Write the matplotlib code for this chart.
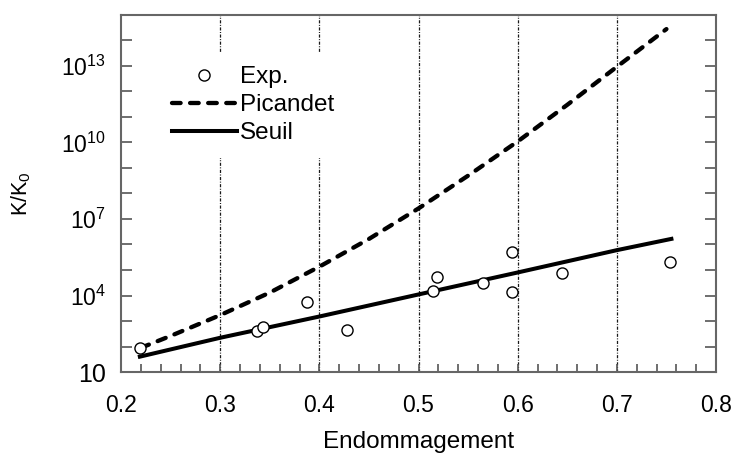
import matplotlib
matplotlib.use("Agg")
import matplotlib.pyplot as plt
from matplotlib.ticker import FixedLocator, NullFormatter, MultipleLocator

plt.rcParams['font.family'] = ['Liberation Sans', 'DejaVu Sans']
plt.rcParams['mathtext.default'] = 'regular'

# mesures
exp_d = [0.219, 0.337, 0.343, 0.388, 0.428, 0.515, 0.519, 0.565, 0.594, 0.594, 0.645, 0.754]
exp_k = [89, 410, 560, 5.8e3, 440, 1.55e4, 5.5e4, 3.0e4, 5.2e5, 1.35e4, 7.8e4, 2.0e5]

# modele Picandet
pic_d = [0.22, 0.25, 0.30, 0.35, 0.40, 0.45, 0.50, 0.55, 0.60, 0.65, 0.70, 0.75]
pic_k = [89, 260, 1.7e3, 1.3e4, 1.35e5, 1.65e6, 2.6e7, 5.0e8, 1.1e10, 3.0e11, 9.3e12, 2.8e14]

# modele seuil
seuil_d = [0.219, 0.30, 0.40, 0.50, 0.60, 0.70, 0.755]
seuil_k = [40, 2.2e2, 1.5e3, 1.1e4, 8.0e4, 6.0e5, 1.66e6]

y_major = [10, 1e4, 1e7, 1e10, 1e13]
y_labels = ['10', '$10^{4}$', '$10^{7}$', '$10^{10}$', '$10^{13}$']
y_minor = [10.0 ** e for e in range(2, 16) if (e - 1) % 3 != 0]
grid_x = [0.3, 0.4, 0.5, 0.6, 0.7]

fig = plt.figure(figsize=(7.34, 4.54), dpi=100)
ax = fig.add_axes([0.1649, 0.1806, 0.8106, 0.7864])

for gx in grid_x:
    ax.axvline(gx, color='#1a1a1a', lw=0.9, ls=(0, (2.5, 1.2, 0.8, 1.2)), zorder=0)

ax.plot(pic_d, pic_k, color='black', lw=3.1, ls=(0, (2.0, 2.2)),
        dash_capstyle='round', label='Picandet', zorder=2)
ax.plot(seuil_d, seuil_k, color='black', lw=2.9, label='Seuil', zorder=2)
ax.plot(exp_d, exp_k, ls='none', marker='o', ms=8, mfc='white', mec='black',
        mew=1.0, label='Exp.', zorder=3)

ax.set_yscale('log')
ax.set_xlim(0.2, 0.8)
ax.set_ylim(10, 1e15)

ax.xaxis.set_major_locator(MultipleLocator(0.1))
ax.xaxis.set_minor_locator(MultipleLocator(0.02))
ax.yaxis.set_major_locator(FixedLocator(y_major))
ax.set_yticklabels(y_labels)
ax.yaxis.set_minor_locator(FixedLocator(y_minor))
ax.yaxis.set_minor_formatter(NullFormatter())

ax.tick_params(which='both', direction='in', top=False, right=True,
               color='#555555', width=1.2, labelsize=16.5)
ax.tick_params(axis='x', which='both', length=6, pad=16)
ax.tick_params(axis='y', which='both', length=8, pad=11)
ax.get_yticklabels()[0].set_fontsize(18)

for sp in ax.spines.values():
    sp.set_color('#666666')
    sp.set_linewidth(1.5)

ax.set_xlabel('Endommagement', fontsize=17.5, labelpad=10)
ax.set_ylabel('K/K$_0$', fontsize=15.5, labelpad=20)

h, l = ax.get_legend_handles_labels()
order = [2, 0, 1]
leg = ax.legend([h[i] for i in order], [l[i] for i in order], loc='upper left',
                bbox_to_anchor=(0.042, 0.928), fontsize=17.5, frameon=True,
                framealpha=1, edgecolor='none', fancybox=False,
                handlelength=2.7, handletextpad=0.1, labelspacing=0.25,
                borderpad=0.55)
leg.get_frame().set_linewidth(0)

fig.savefig('out.png', dpi=100)
